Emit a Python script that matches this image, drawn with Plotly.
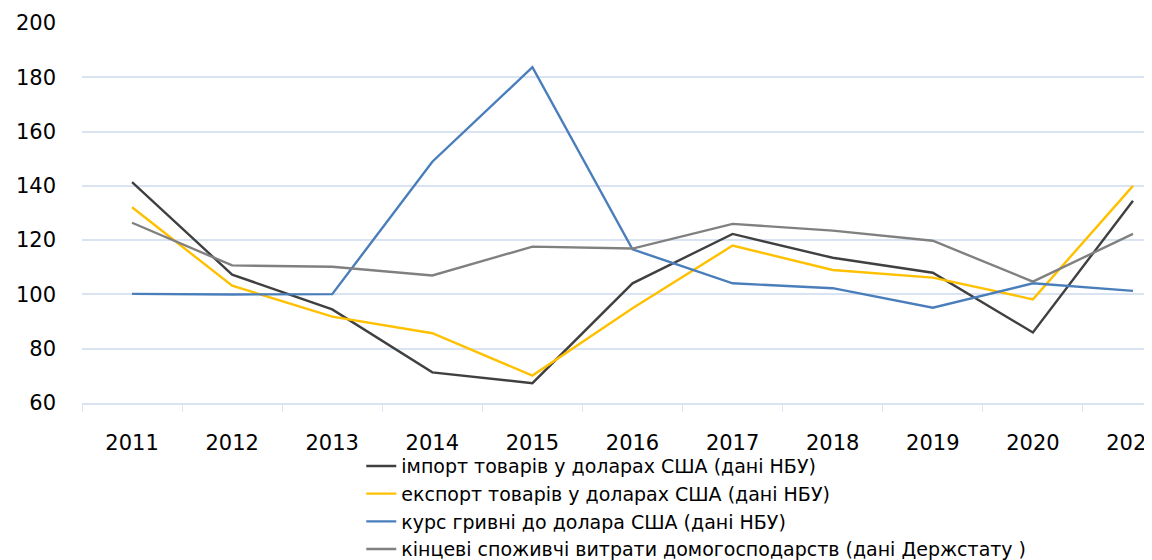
import plotly.graph_objects as go

years = ["2011", "2012", "2013", "2014", "2015", "2016", "2017", "2018", "2019", "2020", "2021"]
import_usd = [141.4, 107.3, 94.5, 71.3, 67.3, 104.1, 122.3, 113.5, 108.0, 86.0, 134.5]
export_usd = [132.1, 103.2, 91.8, 85.7, 70.1, 94.9, 118.0, 109.0, 106.2, 98.2, 140.0]
uah_rate = [100.2, 100.0, 100.1, 148.9, 183.7, 116.6, 104.1, 102.3, 95.1, 104.1, 101.3]
household = [126.4, 110.7, 110.2, 107.0, 117.6, 116.9, 126.0, 123.5, 119.8, 104.7, 122.3]

names = [
    "імпорт товарів у доларах США (дані НБУ)",
    "експорт товарів у доларах США (дані НБУ)",
    "курс гривні до долара США (дані НБУ)",
    "кінцеві споживчі витрати домогосподарств (дані Держстату )",
]
colors = ["#404040", "#FFC000", "#4A7EBB", "#808080"]
series = [import_usd, export_usd, uah_rate, household]

fig = go.Figure()
for n, c, s in zip(names, colors, series):
    fig.add_trace(go.Scatter(x=years, y=s, name=n, mode="lines",
                             line=dict(color=c, width=2.4)))

grid = "#D9E3F2"
FONT = "DejaVu Sans"
fig.update_layout(
    width=1152, height=560,
    margin=dict(l=74, r=8, t=15, b=165, autoexpand=False),
    paper_bgcolor="white", plot_bgcolor="white",
    font=dict(family=FONT, color="#000000"),
    showlegend=True,
    legend=dict(x=0.261, y=-0.116, xanchor="left", yanchor="top",
                orientation="v", font=dict(size=19, family=FONT),
                tracegroupgap=0, itemwidth=30, bgcolor="rgba(0,0,0,0)"),
    xaxis=dict(type="category", range=[-0.5, 10.19], tickson="boundaries",
               ticks="outside", ticklen=7, tickcolor=grid, tickwidth=1,
               showline=True, linecolor=grid, linewidth=1.5,
               showgrid=False, tickfont=dict(size=21, family=FONT),
               ticklabelstandoff=20, ticklabeloverflow="allow",
               automargin=False),
    yaxis=dict(range=[60, 200], dtick=20, tick0=60, showgrid=True,
               gridcolor=grid, gridwidth=1.5, zeroline=False, showline=False,
               ticks="", tickfont=dict(size=21, family=FONT),
               ticklabelstandoff=25, automargin=False),
)

fig.write_html("out.html")
